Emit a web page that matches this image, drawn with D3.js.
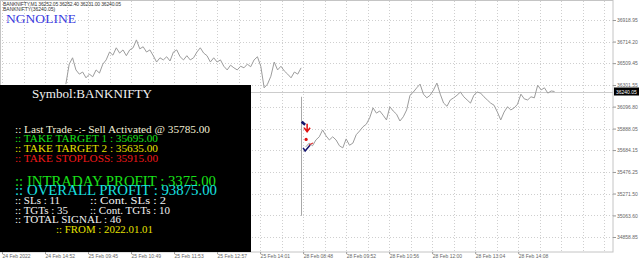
<!DOCTYPE html>
<html>
  <head>
    <meta http-equiv="Content-Type" content="text/html; charset=UTF-8">
    <script type="text/javascript" src="https://cdn.jsdelivr.net/npm/d3@7/dist/d3.min.js"></script>
    <style>
      body { margin: 0; background: #fff; }
      #chart { width: 640px; height: 260px; }
    </style>
  </head>
  <body>
    <div id="chart"></div>
    <script>
// price axis labels (right side)
var priceTicks = [36918.95, 36714.20, 36509.45, 36301.55, 36096.80, 35888.05,
                  35684.15, 35476.25, 35271.50, 35063.60, 34858.85];
// time axis, one label every 64 bars
var timeTicks = [0, 64, 128, 192, 256, 320, 384, 448, 512, 576, 640, 704, 768];
var timeLabels = ["24 Feb 2022", "24 Feb 14:52", "25 Feb 09:45", "25 Feb 10:49", "25 Feb 11:53",
                  "25 Feb 12:57", "25 Feb 14:01", "28 Feb 08:48", "28 Feb 09:52", "28 Feb 10:56",
                  "28 Feb 12:00", "28 Feb 13:04", "28 Feb 14:08"];

// M1 closes sampled every 5 bars
var session1Start = 95;
var session1 = [36310, 36500, 36560, 36445, 36405, 36425, 36370, 36405, 36380, 36445,
                36415, 36500, 36540, 36615, 36585, 36655, 36605, 36635, 36580, 36635,
                36655, 36730, 36645, 36665, 36615, 36635, 36580, 36520, 36560, 36540,
                36570, 36530, 36615, 36635, 36570, 36540, 36580, 36540, 36560, 36615,
                36655, 36605, 36580, 36520, 36560, 36520, 36540, 36480, 36445, 36490,
                36465, 36445, 36480, 36465, 36500, 36475, 36540, 36570, 36480, 36275,
                36310, 36385, 36520, 36445, 36480, 36435, 36405, 36370, 36425, 36405,
                36465];
var session2Start = 452;
var session2 = [35715, 35750, 35725, 35780, 35810, 35875, 35820, 35780, 35810, 35780,
                35725, 35705, 35790, 35730, 35750, 35830, 35865, 35905, 35930, 35990,
                36085, 36035, 36055, 36015, 35970, 36095, 36055, 36025, 35960, 36000,
                36065, 36205, 36235, 36275, 36310, 36215, 36180, 36205, 36255, 36320,
                36215, 36130, 36100, 36160, 36180, 36205, 36235, 36190, 36160, 36130,
                36205, 36235, 36225, 36190, 36160, 36130, 36110, 36045, 35970, 36045,
                36095, 36065, 36085, 36120, 36215, 36170, 36160, 36190, 36180, 36300,
                36255, 36275, 36225, 36245, 36240.05];
var step = 5;
var lastPrice = 36240.05;

// signal bar and trade levels
var signalBar = {time: 445, high: 36190, low: 35060};
var sellPrice = 35785;
var stopPrice = 35915;
var targetPrice = 35695;

var width = 640, height = 260;
var plotRight = 613, plotBottom = 252;

var svg = d3.select("#chart").append("svg")
    .attr("width", width)
    .attr("height", height)
    .style("font-family", "'Liberation Sans', Arial, sans-serif");

var x = d3.scaleLinear().domain([0, 909]).range([2, plotRight]);
var y = d3.scaleLinear().domain([34858.85, 36918.95]).range([237, 20]);

// grid
svg.append("g").selectAll("line")
    .data(priceTicks)
  .enter().append("line")
    .attr("x1", 0).attr("x2", plotRight)
    .attr("y1", function (d) { return Math.round(y(d)) + 0.5; })
    .attr("y2", function (d) { return Math.round(y(d)) + 0.5; })
    .attr("stroke", "#cfcfcf")
    .attr("stroke-dasharray", "1,2");

svg.append("g").selectAll("line")
    .data(d3.range(0, 900, 32))
  .enter().append("line")
    .attr("x1", function (d) { return Math.round(x(d)) + 0.5; })
    .attr("x2", function (d) { return Math.round(x(d)) + 0.5; })
    .attr("y1", 1).attr("y2", plotBottom)
    .attr("stroke", "#cfcfcf")
    .attr("stroke-dasharray", "1,2");

// frame
svg.append("rect")
    .attr("x", 0.5).attr("y", 0.5)
    .attr("width", plotRight - 0.5).attr("height", plotBottom - 0.5)
    .attr("fill", "none")
    .attr("stroke", "#c4c4c4");

// current price line
svg.append("line")
    .attr("x1", 0).attr("x2", plotRight)
    .attr("y1", Math.round(y(lastPrice)) + 0.5)
    .attr("y2", Math.round(y(lastPrice)) + 0.5)
    .attr("stroke", "#cccccc");

// price line
var line1 = d3.line()
    .x(function (d, i) { return x(session1Start + i * step); })
    .y(function (d) { return y(d); });
var line2 = d3.line()
    .x(function (d, i) { return x(session2Start + i * step); })
    .y(function (d) { return y(d); });

svg.append("path")
    .attr("d", line1(session1))
    .attr("fill", "none")
    .attr("stroke", "#9c9c9c")
    .attr("stroke-width", 1);
svg.append("path")
    .attr("d", line2(session2))
    .attr("fill", "none")
    .attr("stroke", "#9c9c9c")
    .attr("stroke-width", 1);

// signal bar
svg.append("line")
    .attr("x1", Math.round(x(signalBar.time)) + 0.5)
    .attr("x2", Math.round(x(signalBar.time)) + 0.5)
    .attr("y1", y(signalBar.high))
    .attr("y2", y(signalBar.low))
    .attr("stroke", "#a8a8a8");

// trade markers
var mx = x(signalBar.time);
svg.append("path")
    .attr("d", "M" + (mx + 0.5) + "," + (y(stopPrice) - 4) + "L" + (mx + 4) + "," + (y(stopPrice) - 1))
    .attr("stroke", "#14146e")
    .attr("stroke-width", 2.5);
svg.append("path")
    .attr("d", "M" + (mx + 6) + "," + (y(stopPrice) - 2) + "V" + (y(stopPrice) + 6) +
               "M" + (mx + 3) + "," + (y(stopPrice) + 2) + "L" + (mx + 6) + "," + (y(stopPrice) + 6) +
               "L" + (mx + 9) + "," + (y(stopPrice) + 2))
    .attr("fill", "none")
    .attr("stroke", "#e01010")
    .attr("stroke-width", 1.5);
svg.append("circle")
    .attr("cx", mx + 5).attr("cy", y(sellPrice))
    .attr("r", 1.6)
    .attr("fill", "#e01010");
svg.append("path")
    .attr("d", "M" + (mx + 2) + "," + (y(targetPrice) - 1) + "L" + (mx + 4) + "," + (y(targetPrice) + 2) +
               "L" + (mx + 9) + "," + (y(targetPrice) - 4))
    .attr("fill", "none")
    .attr("stroke", "#14146e")
    .attr("stroke-width", 1.5);
svg.append("line")
    .attr("x1", mx + 8).attr("x2", mx + 12)
    .attr("y1", y(targetPrice) - 4).attr("y2", y(targetPrice) - 6)
    .attr("stroke", "#e01010");

// axes
var yAxis = d3.axisRight(y)
    .tickValues(priceTicks)
    .tickSize(3)
    .tickFormat(d3.format(".2f"));
var gy = svg.append("g")
    .attr("transform", "translate(" + plotRight + ",0)")
    .call(yAxis);
gy.select(".domain").remove();
gy.selectAll("line").attr("stroke", "#999");
gy.selectAll("text")
    .attr("x", 4)
    .attr("font-size", "5px")
    .attr("font-family", "'Liberation Sans', Arial, sans-serif")
    .attr("fill", "#666");

var xAxis = d3.axisBottom(x)
    .tickValues(timeTicks)
    .tickSize(2)
    .tickFormat(function (d, i) { return timeLabels[i]; });
var gx = svg.append("g")
    .attr("transform", "translate(0," + plotBottom + ")")
    .call(xAxis);
gx.select(".domain").remove();
gx.selectAll("line").attr("stroke", "#999");
gx.selectAll("text")
    .attr("text-anchor", "start")
    .attr("y", 2)
    .attr("font-size", "5px")
    .attr("font-family", "'Liberation Sans', Arial, sans-serif")
    .attr("fill", "#666");

// last price tag
svg.append("rect")
    .attr("x", plotRight + 1).attr("y", y(lastPrice) - 4)
    .attr("width", 25).attr("height", 8)
    .attr("fill", "#000");
svg.append("text")
    .attr("x", plotRight + 3).attr("y", y(lastPrice) + 2)
    .attr("font-size", "5px")
    .attr("fill", "#fff")
    .text(d3.format(".2f")(lastPrice));

// header texts
svg.append("text")
    .attr("x", 3).attr("y", 6)
    .attr("font-size", "5px")
    .attr("fill", "#333")
    .attr("textLength", 118)
    .text("BANKNIFTY,M1  36252.05 36252.40 36231.00 36240.05");
svg.append("text")
    .attr("x", 3).attr("y", 11)
    .attr("font-size", "5px")
    .attr("fill", "#333")
    .text("BANKNIFTY(36240.05)");
svg.append("text")
    .attr("x", 6).attr("y", 23)
    .attr("font-size", "13.5px")
    .attr("font-family", "'Liberation Serif', serif")
    .attr("fill", "#3a3ae0")
    .attr("textLength", 70)
    .text("NGNOLINE");

// info panel
svg.append("rect")
    .attr("x", 0).attr("y", 85)
    .attr("width", 251).attr("height", plotBottom - 85)
    .attr("fill", "#000");

var rows = [
  {t: "Symbol:BANKNIFTY", x: 32, y: 98, s: 13, c: "#f2f2f2", w: 120},
  {t: ":: Last Trade -:- Sell Activated @ 35785.00", x: 15, y: 133, s: 11, c: "#f3efd6", w: 195},
  {t: ":: TAKE TARGET 1 : 35695.00", x: 15, y: 142, s: 11, c: "#18e018", w: 143},
  {t: ":: TAKE TARGET 2 : 35635.00", x: 15, y: 152, s: 11, c: "#e6e000", w: 143},
  {t: ":: TAKE STOPLOSS: 35915.00", x: 15, y: 162, s: 11, c: "#f01818", w: 143},
  {t: ":: INTRADAY PROFIT : 3375.00", x: 15, y: 186, s: 15, c: "#18e018", w: 201},
  {t: ":: OVERALL PROFIT : 93875.00", x: 15, y: 195, s: 15, c: "#18e0e0", w: 202},
  {t: ":: SLs : 11", x: 15, y: 204, s: 10.5, c: "#f2f2f2", w: 45},
  {t: ":: Cont. SLs : 2", x: 90, y: 204, s: 10.5, c: "#f2f2f2", w: 76},
  {t: ":: TGTs : 35", x: 15, y: 214, s: 10.5, c: "#f2f2f2", w: 53},
  {t: ":: Cont. TGTs : 10", x: 90, y: 214, s: 10.5, c: "#f2f2f2", w: 80},
  {t: ":: TOTAL SIGNAL : 46", x: 15, y: 223, s: 10.5, c: "#f2f2f2", w: 106},
  {t: ":: FROM : 2022.01.01", x: 56, y: 233, s: 10.5, c: "#e6e000", w: 97}
];

svg.append("g").selectAll("text")
    .data(rows)
  .enter().append("text")
    .attr("x", function (d) { return d.x; })
    .attr("y", function (d) { return d.y; })
    .attr("font-family", "'Liberation Serif', 'Times New Roman', serif")
    .attr("font-size", function (d) { return d.s + "px"; })
    .attr("fill", function (d) { return d.c; })
    .attr("textLength", function (d) { return d.w; })
    .attr("lengthAdjust", "spacingAndGlyphs")
    .text(function (d) { return d.t; });
    </script>
  </body>
</html>
